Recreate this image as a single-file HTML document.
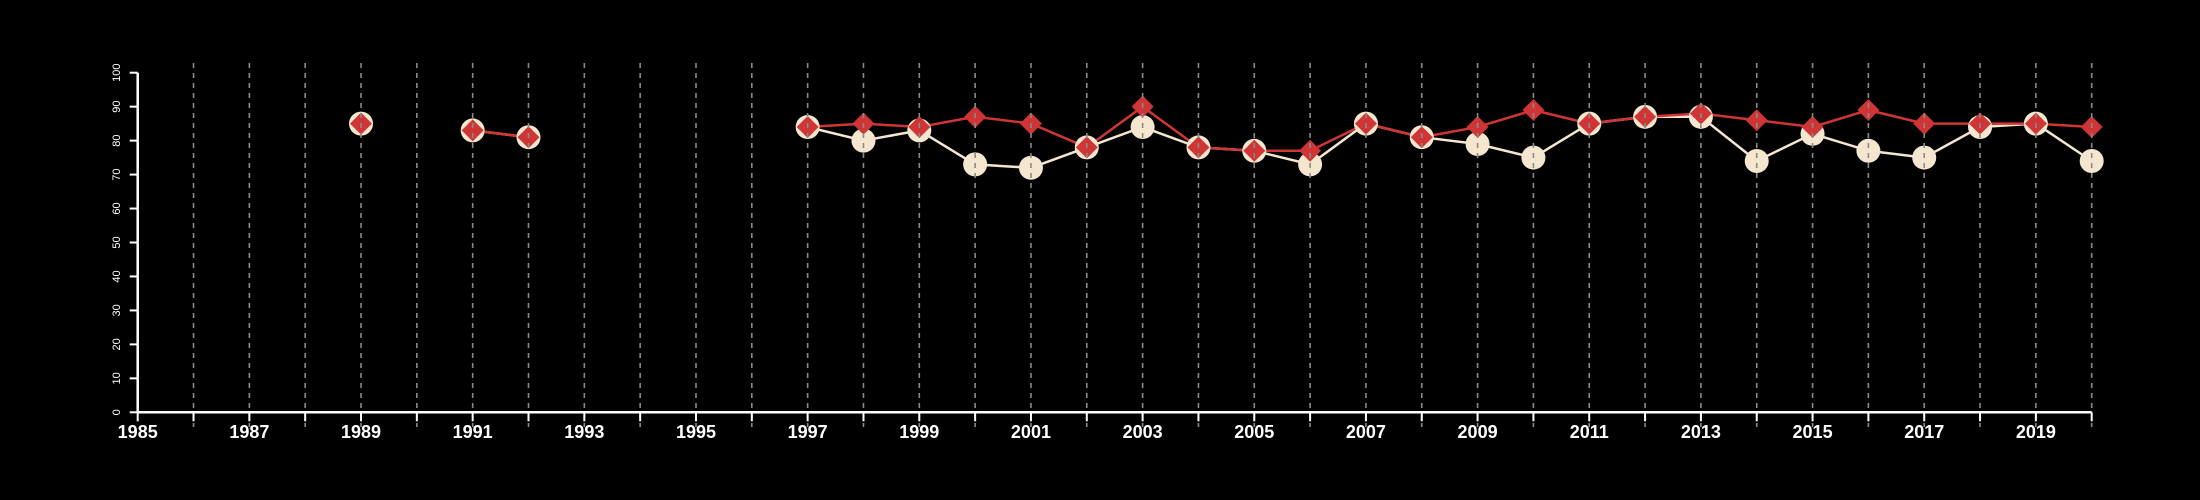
<!DOCTYPE html>
<html><head><meta charset="utf-8"><style>
html,body{margin:0;padding:0;background:#000;width:2200px;height:500px;overflow:hidden}
svg{display:block;font-family:"Liberation Sans",Arial,sans-serif}
</style></head><body>
<svg id="chart" width="2200" height="500" xmlns="http://www.w3.org/2000/svg"></svg>
<script>
const years=[1985,1986,1987,1988,1989,1990,1991,1992,1993,1994,1995,1996,1997,1998,1999,2000,2001,2002,2003,2004,2005,2006,2007,2008,2009,2010,2011,2012,2013,2014,2015,2016,2017,2018,2019,2020];
const redSeries=[null,null,null,null,85,null,83,81,null,null,null,null,84,85,84,87,85,78,90,78,77,77,85,81,84,89,85,87,88,86,84,89,85,85,85,84];
const creamSeries=[null,null,null,null,85,null,83,81,null,null,null,null,84,80,83,73,72,78,84,78,77,73,85,81,79,75,85,87,87,74,82,77,75,84,85,74];
const yTicks=[0,10,20,30,40,50,60,70,80,90,100];
const xLabelYears=[1985,1987,1989,1991,1993,1995,1997,1999,2001,2003,2005,2007,2009,2011,2013,2015,2017,2019];

const NS="http://www.w3.org/2000/svg";
const svg=document.getElementById('chart');
const x0=137.7,x1=2091.7,y0=412.3,y1=72.7;
const xs=y=>x0+(y-1985)*(x1-x0)/35;
const ys=v=>y0-(v)*(y0-y1)/100;
function mk(tag,attrs,parent){const e=document.createElementNS(NS,tag);for(const k in attrs)e.setAttribute(k,attrs[k]);(parent||svg).appendChild(e);return e;}

// lines
function drawLine(data,color,name){
  let segs=[],cur=[];
  data.forEach((v,i)=>{if(v==null){if(cur.length)segs.push(cur);cur=[];}else cur.push(xs(years[i]).toFixed(1)+','+ys(v).toFixed(1));});
  if(cur.length)segs.push(cur);
  segs.forEach(s=>{if(s.length>1){
    const p=mk('polyline',{points:s.join(' '),fill:'none',stroke:color,'stroke-width':2.5});
    
    
  }});
}
drawLine(creamSeries,'#f5e6d0','cream-series-line');
drawLine(redSeries,'#d03535','red-series-line');
creamSeries.forEach((v,i)=>{if(v==null)return;
  const c=mk('circle',{cx:xs(years[i]),cy:ys(v),r:12,fill:'#f5e6d0'});
  
  
});
redSeries.forEach((v,i)=>{if(v==null)return;
  const cx=xs(years[i]),cy=ys(v),r=11;
  const d=mk('polygon',{points:`${cx},${cy-r} ${cx+r},${cy} ${cx},${cy+r} ${cx-r},${cy}`,fill:'#d03535'});
  
  
});
// grid lines (drawn over markers)
years.slice(1).forEach(y=>{
  const g=mk('line',{x1:xs(y),x2:xs(y),y1:63,y2:427,stroke:'#8a8a8a','stroke-width':1.6,'stroke-dasharray':'5,5'});
  
  
});
// axes
const ax=mk('line',{x1:x0,x2:x1,y1:y0,y2:y0,stroke:'#fff','stroke-width':2.5});


const ay=mk('line',{x1:x0,x2:x0,y1:y0,y2:y1,stroke:'#fff','stroke-width':2.5});


years.forEach(y=>{
  const t=mk('line',{x1:xs(y),x2:xs(y),y1:y0,y2:y0+9,stroke:'#fff','stroke-width':2});
  
  
});
xLabelYears.forEach(y=>{
  const t=mk('text',{x:xs(y),y:438,fill:'#fff','font-size':18,'font-weight':'bold','text-anchor':'middle'});
  t.textContent=y;
  
  
});
yTicks.forEach(v=>{
  const t=mk('line',{x1:x0-8,x2:x0,y1:ys(v),y2:ys(v),stroke:'#fff','stroke-width':2});
  
  
  const l=mk('text',{x:0,y:0,fill:'#fff','font-size':11,'text-anchor':'middle',transform:`translate(120,${ys(v)}) rotate(-90)`});
  l.textContent=v;
  
  
});
</script>
</body></html>
